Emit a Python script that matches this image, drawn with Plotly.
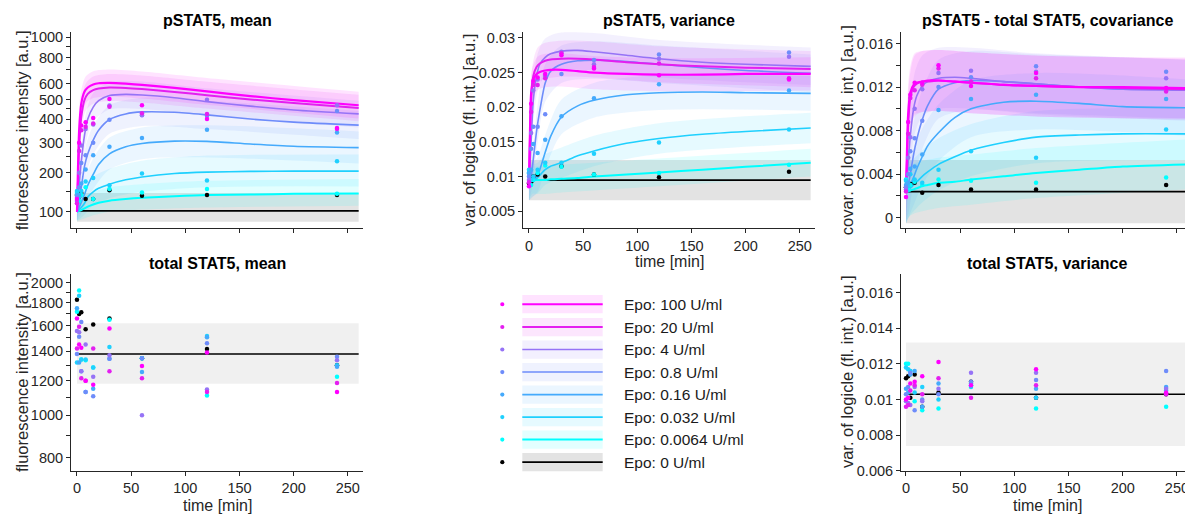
import numpy as np
import plotly.graph_objects as go

W, H = 1193, 523   # right-most panels run slightly past the 1185 px window, as in the reference
FONT = "Liberation Sans, Arial, sans-serif"

# ---------------- data ----------------
DOSES = ['100', '20', '4', '0.8', '0.16', '0.032', '0.0064', '0']
LEGEND_LABELS = ['Epo: %s U/ml' % d for d in DOSES]
COLORS = ['#ff00ff', '#e41ff0', '#9673f6', '#6e8cfa', '#45aafc', '#1fd0fe', '#00ffff', '#000000']
LINE_W = [2.2, 2.0, 1.6, 1.6, 1.6, 1.6, 2.0, 1.8]

# model fit time grid
T_FIT = [0, 1, 2, 4, 7, 10, 15, 20, 30, 45, 60, 90, 120, 160, 200, 260]
MEAN_FIT = [
    [100, 220, 350, 480, 550, 575, 595, 603, 605, 600, 592, 572, 550, 522, 498, 470],
    [100, 180, 280, 410, 500, 535, 558, 568, 575, 572, 565, 547, 527, 502, 482, 455],
    [100, 130, 165, 235, 330, 400, 460, 495, 525, 532, 528, 512, 490, 465, 445, 425],
    [100, 110, 125, 160, 220, 260, 310, 350, 398, 425, 435, 433, 420, 400, 386, 372],
    [100, 104, 110, 122, 142, 165, 195, 225, 260, 285, 297, 306, 305, 295, 287, 282],
    [100, 102, 105, 110, 120, 135, 148, 157, 168, 180, 188, 198, 202, 204, 205, 205],
    [100, 101, 102, 104, 108, 112, 117, 121, 126, 130, 133, 137, 140, 141, 143, 144],
]
VAR_FIT = [
    [0.0090, 0.0170, 0.0220, 0.0240, 0.0248, 0.0251, 0.0253, 0.0254, 0.0254, 0.0252, 0.0250, 0.0248, 0.0247, 0.0247, 0.0248, 0.0248],
    [0.0090, 0.0160, 0.0210, 0.0245, 0.0258, 0.0263, 0.0267, 0.0269, 0.0270, 0.0270, 0.0269, 0.0265, 0.0262, 0.0259, 0.0257, 0.0255],
    [0.0092, 0.0120, 0.0150, 0.0210, 0.0245, 0.0262, 0.0272, 0.0277, 0.0281, 0.0282, 0.0280, 0.0275, 0.0270, 0.0265, 0.0262, 0.0259],
    [0.0090, 0.0095, 0.0100, 0.0125, 0.0165, 0.0195, 0.0235, 0.0252, 0.0262, 0.0267, 0.0268, 0.0266, 0.0262, 0.0257, 0.0253, 0.0249],
    [0.0090, 0.0092, 0.0093, 0.0095, 0.0100, 0.0110, 0.0135, 0.0158, 0.0186, 0.0202, 0.0210, 0.0218, 0.0221, 0.0222, 0.0221, 0.0220],
    [0.0090, 0.0092, 0.0093, 0.0094, 0.0097, 0.0102, 0.0110, 0.0115, 0.0120, 0.0130, 0.0137, 0.0148, 0.0155, 0.0161, 0.0165, 0.0170],
    [0.0092, 0.0093, 0.0094, 0.0095, 0.0095, 0.0095, 0.0095, 0.0096, 0.0097, 0.0098, 0.0100, 0.0103, 0.0106, 0.0110, 0.0114, 0.0120],
]
COV_FIT = [
    [0.0024, 0.0065, 0.0095, 0.0115, 0.0122, 0.0124, 0.0125, 0.0126, 0.0126, 0.0125, 0.0124, 0.0122, 0.0121, 0.0120, 0.0120, 0.0119],
    [0.0024, 0.0055, 0.0085, 0.0110, 0.0120, 0.0123, 0.0125, 0.0125, 0.0126, 0.0125, 0.0124, 0.0122, 0.0121, 0.0120, 0.0119, 0.0118],
    [0.0024, 0.0035, 0.0050, 0.0075, 0.0100, 0.0112, 0.0121, 0.0125, 0.0128, 0.0129, 0.0128, 0.0125, 0.0123, 0.0120, 0.0118, 0.0117],
    [0.0024, 0.0026, 0.0030, 0.0040, 0.0058, 0.0072, 0.0090, 0.0103, 0.0118, 0.0124, 0.0126, 0.0125, 0.0123, 0.0120, 0.0118, 0.0118],
    [0.0024, 0.0025, 0.0026, 0.0030, 0.0037, 0.0045, 0.0056, 0.0066, 0.0078, 0.0092, 0.0100, 0.0106, 0.0107, 0.0105, 0.0102, 0.0101],
    [0.0024, 0.0024, 0.0025, 0.0027, 0.0030, 0.0033, 0.0038, 0.0042, 0.0049, 0.0056, 0.0062, 0.0069, 0.0074, 0.0076, 0.0077, 0.0077],
    [0.0024, 0.0024, 0.0024, 0.0025, 0.0026, 0.0027, 0.0029, 0.0030, 0.0032, 0.0033, 0.0035, 0.0038, 0.0041, 0.0044, 0.0047, 0.0049],
]

# uncertainty bands
T_BAND = [0, 3, 8, 15, 30, 60, 120, 260]
MEAN_LO = [
    [80, 330, 480, 510, 520, 508, 472, 403],
    [80, 280, 440, 478, 493, 485, 452, 390],
    [80, 160, 295, 390, 448, 450, 418, 362],
    [80, 112, 190, 258, 335, 368, 355, 314],
    [80, 92, 118, 155, 210, 242, 248, 228],
    [80, 85, 96, 115, 132, 148, 160, 162],
    [80, 82, 86, 92, 100, 105, 110, 114],
]
MEAN_HI = [
    [140, 520, 650, 690, 703, 688, 640, 548],
    [140, 445, 600, 650, 668, 657, 613, 530],
    [140, 250, 420, 540, 612, 615, 570, 495],
    [140, 175, 285, 370, 470, 512, 495, 440],
    [140, 145, 190, 245, 320, 362, 372, 345],
    [140, 135, 156, 188, 212, 237, 254, 258],
    [140, 130, 138, 148, 160, 168, 177, 182],
]
VAR_LO = [
    [0.0066, 0.0208, 0.0225, 0.0229, 0.0230, 0.0226, 0.0223, 0.0224],
    [0.0066, 0.0206, 0.0234, 0.0241, 0.0244, 0.0243, 0.0236, 0.0229],
    [0.0066, 0.0158, 0.0223, 0.0245, 0.0254, 0.0253, 0.0243, 0.0232],
    [0.0066, 0.0085, 0.0150, 0.0208, 0.0235, 0.0241, 0.0235, 0.0222],
    [0.0066, 0.0070, 0.0078, 0.0110, 0.0161, 0.0185, 0.0196, 0.0195],
    [0.0066, 0.0071, 0.0076, 0.0088, 0.0098, 0.0115, 0.0133, 0.0148],
    [0.0066, 0.0075, 0.0075, 0.0075, 0.0077, 0.0080, 0.0086, 0.0100],
]
VAR_HI = [
    [0.0124, 0.0256, 0.0273, 0.0277, 0.0278, 0.0274, 0.0271, 0.0272],
    [0.0124, 0.0258, 0.0286, 0.0293, 0.0296, 0.0295, 0.0288, 0.0281],
    [0.0124, 0.0212, 0.0277, 0.0299, 0.0308, 0.0307, 0.0297, 0.0286],
    [0.0124, 0.0137, 0.0204, 0.0262, 0.0289, 0.0295, 0.0289, 0.0276],
    [0.0124, 0.0120, 0.0128, 0.0160, 0.0211, 0.0235, 0.0246, 0.0245],
    [0.0124, 0.0118, 0.0120, 0.0132, 0.0142, 0.0159, 0.0177, 0.0192],
    [0.0124, 0.0115, 0.0115, 0.0115, 0.0117, 0.0120, 0.0126, 0.0140],
]
COV_LO = [
    [-0.0005, 0.0077, 0.0095, 0.0097, 0.0098, 0.0096, 0.0093, 0.0091],
    [-0.0005, 0.0070, 0.0093, 0.0097, 0.0098, 0.0096, 0.0093, 0.0090],
    [-0.0005, 0.0034, 0.0077, 0.0093, 0.0100, 0.0100, 0.0095, 0.0089],
    [-0.0005, 0.0008, 0.0038, 0.0063, 0.0091, 0.0099, 0.0096, 0.0091],
    [-0.0005, 0.0002, 0.0014, 0.0030, 0.0052, 0.0074, 0.0081, 0.0075],
    [-0.0005, 0.0001, 0.0007, 0.0014, 0.0025, 0.0038, 0.0050, 0.0053],
    [-0.0005, 0.0001, 0.0004, 0.0006, 0.0009, 0.0012, 0.0018, 0.0026],
]
COV_HI = [
    [0.0053, 0.0133, 0.0151, 0.0153, 0.0154, 0.0152, 0.0149, 0.0147],
    [0.0053, 0.0126, 0.0149, 0.0153, 0.0154, 0.0152, 0.0149, 0.0146],
    [0.0053, 0.0090, 0.0133, 0.0149, 0.0156, 0.0156, 0.0151, 0.0145],
    [0.0053, 0.0062, 0.0092, 0.0117, 0.0145, 0.0153, 0.0150, 0.0145],
    [0.0053, 0.0054, 0.0066, 0.0082, 0.0104, 0.0126, 0.0133, 0.0127],
    [0.0053, 0.0051, 0.0055, 0.0062, 0.0073, 0.0086, 0.0098, 0.0101],
    [0.0053, 0.0049, 0.0050, 0.0052, 0.0055, 0.0058, 0.0064, 0.0072],
]

# Epo 0 U/ml (and total STAT5) constant model
CTRL_T = [0, 260]
MEAN_CTRL, MEAN_CTRL_LO, MEAN_CTRL_HI = [102, 102], [78, 78], [145, 145]
VAR_CTRL, VAR_CTRL_LO, VAR_CTRL_HI = [0.0095, 0.0095], [0.0066, 0.0066], [0.0124, 0.0124]
COV_CTRL, COV_CTRL_LO, COV_CTRL_HI = [0.0024, 0.0024], [-0.0005, -0.0005], [0.0053, 0.0053]
TOT_MEAN_FIT, TOT_MEAN_LO, TOT_MEAN_HI = [1380, 1380], [1180, 1180], [1620, 1620]
TOT_VAR_FIT, TOT_VAR_LO, TOT_VAR_HI = [0.0103, 0.0103], [0.0074, 0.0074], [0.0132, 0.0132]

# measured data
DATA_T = [0, 2, 4, 8, 15, 30, 60, 120, 240]
MEAN_DATA = [
    [130, 300, 370, 385, 405, 505, 470, 400, 360],
    [120, 270, 350, 365, 380, 462, 428, 425, 355],
    [125, 200, 290, 355, 375, 468, 418, 500, 470],
    [135, 160, 230, 255, 300, 397, 420, 415, 440],
    [140, 140, 170, 210, 255, 285, 318, 352, 340],
    [150, 135, 150, 175, 185, 165, 198, 178, 235],
    [145, 125, 140, 160, 130, 155, 146, 155, 143],
    [140, 135, 145, 130, 130, 152, 138, 140, 140],
]
VAR_DATA = [
    [0.0086, 0.0205, 0.0238, 0.0243, 0.0248, 0.0275, 0.0256, 0.0246, 0.0240],
    [0.0092, 0.0193, 0.0232, 0.0232, 0.0242, 0.0278, 0.0258, 0.0263, 0.0242],
    [0.0095, 0.0163, 0.0224, 0.0240, 0.0245, 0.0280, 0.0262, 0.0270, 0.0273],
    [0.0100, 0.0140, 0.0172, 0.0172, 0.0190, 0.0248, 0.0268, 0.0276, 0.0279],
    [0.0105, 0.0110, 0.0147, 0.0134, 0.0153, 0.0187, 0.0213, 0.0233, 0.0224],
    [0.0110, 0.0095, 0.0100, 0.0110, 0.0120, 0.0120, 0.0133, 0.0149, 0.0168],
    [0.0105, 0.0088, 0.0095, 0.0105, 0.0116, 0.0114, 0.0103, 0.0105, 0.0117],
    [0.0090, 0.0092, 0.0100, 0.0103, 0.0100, 0.0115, 0.0103, 0.0099, 0.0107],
]
COV_DATA = [
    [0.0019, 0.0088, 0.0113, 0.0124, 0.0124, 0.0140, 0.0121, 0.0133, 0.0119],
    [0.0024, 0.0077, 0.0110, 0.0117, 0.0122, 0.0137, 0.0125, 0.0128, 0.0116],
    [0.0026, 0.0055, 0.0074, 0.0100, 0.0118, 0.0133, 0.0135, 0.0134, 0.0128],
    [0.0028, 0.0040, 0.0061, 0.0073, 0.0089, 0.0120, 0.0129, 0.0139, 0.0134],
    [0.0030, 0.0032, 0.0045, 0.0047, 0.0058, 0.0099, 0.0109, 0.0113, 0.0109],
    [0.0034, 0.0029, 0.0040, 0.0035, 0.0032, 0.0044, 0.0061, 0.0055, 0.0081],
    [0.0035, 0.0027, 0.0030, 0.0033, 0.0030, 0.0035, 0.0034, 0.0032, 0.0037],
    [0.0028, 0.0029, 0.0031, 0.0032, 0.0023, 0.0030, 0.0026, 0.0026, 0.0030],
]
TOT_MEAN_DATA = [
    [1660, 1450, 1425, 1200, 1175, 1575, 1295, 1390, 1130],
    [1420, 1590, 1215, 1200, 1420, 1260, 1215, 1130, 1185],
    [1555, 1545, 1260, 1450, 1225, 1370, 1000, 1145, 1335],
    [1380, 1510, 1630, 1130, 1105, 1345, 1350, 1460, 1360],
    [1750, 1320, 1260, 1130, 1150, 1345, 1255, 1505, 1290],
    [1320, 1870, 1340, 1340, 1285, 1430, 1350, 1515, 1300],
    [1720, 1920, 1340, 1335, 1285, 1650, 1350, 1110, 1225],
    [1830, 1700, 1715, 1570, 1610, 1660, 1350, 1415, 1300],
]
TOT_VAR_DATA = [
    [0.0100, 0.0101, 0.0109, 0.0110, 0.0113, 0.0121, 0.0108, 0.0117, 0.0104],
    [0.0096, 0.0097, 0.0105, 0.0108, 0.0103, 0.0112, 0.0101, 0.0108, 0.0103],
    [0.0099, 0.0098, 0.0097, 0.0107, 0.0099, 0.0106, 0.0115, 0.0115, 0.0106],
    [0.0103, 0.0107, 0.0115, 0.0094, 0.0100, 0.0103, 0.0110, 0.0111, 0.0116],
    [0.0106, 0.0104, 0.0114, 0.0116, 0.0096, 0.0109, 0.0109, 0.0106, 0.0107],
    [0.0118, 0.0117, 0.0116, 0.0104, 0.0107, 0.0100, 0.0107, 0.0101, 0.0105],
    [0.0120, 0.0120, 0.0116, 0.0099, 0.0094, 0.0095, 0.0108, 0.0095, 0.0096],
    [0.0112, 0.0113, 0.0101, 0.0114, 0.0096, 0.0104, 0.0110, 0.0101, 0.0103],
]

# axis ticks
X_TICKS = [0, 50, 100, 150, 200, 250]
MEAN_TICKS = [100, 150, 200, 250, 300, 350, 400, 450, 500, 600, 700, 800, 900, 1000]
MEAN_TICKTEXT = ['100', '', '200', '', '300', '', '400', '', '500', '600', '', '800', '', '1000']
VAR_TICKS = [0.005, 0.01, 0.015, 0.02, 0.025, 0.03]
VAR_TICKTEXT = ['0.005', '0.01', '0.015', '0.02', '0.025', '0.03']
COV_TICKS = [0, 0.002, 0.004, 0.006, 0.008, 0.010, 0.012, 0.014, 0.016]
COV_TICKTEXT = ['0', '', '0.004', '', '0.008', '', '0.012', '', '0.016']
TOT_TICKS = [800, 900, 1000, 1100, 1200, 1300, 1400, 1500, 1600, 1700, 1800, 1900, 2000]
TOT_TICKTEXT = ['800', '', '1000', '', '1200', '', '1400', '', '1600', '', '1800', '', '2000']
TVAR_TICKS = [0.006, 0.008, 0.010, 0.012, 0.014, 0.016]
TVAR_TICKTEXT = ['0.006', '0.008', '0.01', '0.012', '0.014', '0.016']

# ---------------- helpers ----------------
LOGICLE_W = 187.0


def logicle(v):
    return np.arcsinh(np.asarray(v, dtype=float) / LOGICLE_W)


def ident(v):
    return list(v)


def rgba(hexc, a):
    h = hexc.lstrip('#')
    return 'rgba(%d,%d,%d,%.3f)' % (int(h[0:2], 16), int(h[2:4], 16), int(h[4:6], 16), a)


def px(x):
    return x / W


def py(y):
    return 1 - y / H


fig = go.Figure()
BAND_ALPHA = 0.11


def add_band(ax, t, lo, hi, color, tf, alpha=BAND_ALPHA, shape='spline'):
    xa, ya = ax
    fig.add_trace(go.Scatter(x=t, y=tf(lo), mode='lines', xaxis=xa, yaxis=ya,
                             line=dict(width=0, shape=shape, smoothing=0.8),
                             hoverinfo='skip', showlegend=False))
    fig.add_trace(go.Scatter(x=t, y=tf(hi), mode='lines', xaxis=xa, yaxis=ya,
                             line=dict(width=0, shape=shape, smoothing=0.8),
                             fill='tonexty', fillcolor=rgba(color, alpha),
                             hoverinfo='skip', showlegend=False))


def add_line(ax, t, v, color, w, tf):
    xa, ya = ax
    fig.add_trace(go.Scatter(x=t, y=tf(v), mode='lines', xaxis=xa, yaxis=ya,
                             line=dict(color=color, width=w, shape='spline', smoothing=0.7),
                             hoverinfo='skip', showlegend=False))


def add_dots(ax, t, v, color, tf):
    xa, ya = ax
    fig.add_trace(go.Scatter(x=t, y=tf(v), mode='markers', xaxis=xa, yaxis=ya,
                             marker=dict(color=color, size=4.5, line=dict(width=0)),
                             hoverinfo='skip', showlegend=False))


def dose_panel(ax, fit, lo, hi, ctrl, ctrl_lo, ctrl_hi, data, tf):
    add_band(ax, CTRL_T, ctrl_lo, ctrl_hi, '#000000', tf, shape='linear')
    for i in range(6, -1, -1):
        add_band(ax, T_BAND, lo[i], hi[i], COLORS[i], tf)
    add_line(ax, CTRL_T, ctrl, COLORS[7], LINE_W[7], tf)
    for i in range(6, -1, -1):
        add_line(ax, T_FIT, fit[i], COLORS[i], LINE_W[i], tf)
    for i in range(7, -1, -1):
        add_dots(ax, DATA_T, data[i], COLORS[i], tf)


def total_panel(ax, fit, lo, hi, data, tf):
    add_band(ax, CTRL_T, lo, hi, '#000000', tf, alpha=0.06, shape='linear')
    add_line(ax, CTRL_T, fit, '#000000', 1.5, tf)
    for i in range(7, -1, -1):
        add_dots(ax, DATA_T, data[i], COLORS[i], tf)


dose_panel(('x', 'y'), MEAN_FIT, MEAN_LO, MEAN_HI, MEAN_CTRL, MEAN_CTRL_LO, MEAN_CTRL_HI, MEAN_DATA, logicle)
dose_panel(('x2', 'y2'), VAR_FIT, VAR_LO, VAR_HI, VAR_CTRL, VAR_CTRL_LO, VAR_CTRL_HI, VAR_DATA, ident)
dose_panel(('x3', 'y3'), COV_FIT, COV_LO, COV_HI, COV_CTRL, COV_CTRL_LO, COV_CTRL_HI, COV_DATA, ident)
total_panel(('x4', 'y4'), TOT_MEAN_FIT, TOT_MEAN_LO, TOT_MEAN_HI, TOT_MEAN_DATA, logicle)
total_panel(('x5', 'y5'), TOT_VAR_FIT, TOT_VAR_LO, TOT_VAR_HI, TOT_VAR_DATA, ident)

# ---------------- axes ----------------
AXC = '#262626'
base = dict(showline=True, linecolor=AXC, linewidth=1, ticks='outside', ticklen=4,
            tickcolor=AXC, tickwidth=1, showgrid=False, zeroline=False,
            tickfont=dict(family=FONT, size=14.5, color=AXC), fixedrange=True)

XL = [px(71), px(363)]
XM = [px(523), px(815)]
XR = [px(901), px(1193)]
YT = [py(230), py(30)]
YB = [py(478), py(276.7)]
XRANGE = [-5.5, 264]
XRANGE_R = [-4.6, 264.8]

layout = dict(
    width=W, height=H, margin=dict(l=0, r=0, t=0, b=0),
    paper_bgcolor='white', plot_bgcolor='white', showlegend=False,
    font=dict(family=FONT, color=AXC),
)


def xax(domain, anchor, rng, labels):
    d = dict(base)
    d.update(domain=domain, anchor=anchor, range=rng, tickvals=X_TICKS, showticklabels=labels,
             ticklabeloverflow='allow')
    return d


def yax(domain, anchor, rng, tv, tt):
    d = dict(base)
    d.update(domain=domain, anchor=anchor, range=rng, tickvals=tv, ticktext=tt)
    return d


layout['xaxis'] = xax(XL, 'y', XRANGE, False)
layout['yaxis'] = yax(YT, 'x', [0.3372, 2.4315], list(logicle(MEAN_TICKS)), MEAN_TICKTEXT)
layout['xaxis2'] = xax(XM, 'y2', XRANGE, True)
layout['yaxis2'] = yax(YT, 'x2', [0.00256, 0.0308], VAR_TICKS, VAR_TICKTEXT)
layout['xaxis3'] = xax(XR, 'y3', XRANGE_R, False)
layout['yaxis3'] = yax(YT, 'x3', [-0.00096, 0.01702], COV_TICKS, COV_TICKTEXT)
layout['xaxis4'] = xax(XL, 'y4', XRANGE, True)
layout['yaxis4'] = yax(YB, 'x4', [2.0906, 3.1108], list(logicle(TOT_TICKS)), TOT_TICKTEXT)
layout['xaxis5'] = xax(XR, 'y5', XRANGE_R, True)
layout['yaxis5'] = yax(YB, 'x5', [0.006, 0.01704], TVAR_TICKS, TVAR_TICKTEXT)

fig.update_layout(**layout)

# ---------------- titles / labels ----------------
ann = []


def text(x, y, s, size=16, bold=False, angle=0, xanchor='center', color=AXC):
    ann.append(dict(x=px(x), y=py(y), xref='paper', yref='paper', text=('<b>%s</b>' % s) if bold else s,
                    showarrow=False, xanchor=xanchor, yanchor='middle', textangle=angle,
                    borderpad=0, font=dict(family=FONT, size=size, color=color)))


text(217, 18, 'pSTAT5, mean', bold=True, color='#000000')
text(669, 18, 'pSTAT5, variance', bold=True, color='#000000')
text(1047, 18, 'pSTAT5 - total STAT5, covariance', bold=True, color='#000000')
text(217, 266, 'total STAT5, mean', bold=True, color='#000000')
text(1047, 266, 'total STAT5, variance', bold=True, color='#000000')

text(22, 130, 'fluorescence intensity [a.u.]', size=16.5, angle=-90)
text(469, 130, 'var. of logicle (fl. int.) [a.u.]', size=16.5, angle=-90)
text(847, 130, 'covar. of logicle (fl. int.) [a.u.]', size=16.5, angle=-90)
text(22, 377, 'fluorescence intensity [a.u.]', size=16.5, angle=-90)
text(847, 377, 'var. of logicle (fl. int.) [a.u.]', size=16.5, angle=-90)

text(669, 264.5, 'time [min]', size=16)
text(217, 513, 'time [min]', size=16)
text(1047, 513, 'time [min]', size=16)

# ---------------- legend ----------------
LEG_ROWS = [307.7, 331, 354, 377, 400, 423, 446, 469]
shapes = []
for i, yrow in enumerate(LEG_ROWS):
    band_col = rgba(COLORS[i], BAND_ALPHA)
    shapes.append(dict(type='rect', xref='paper', yref='paper', x0=px(522.3), x1=px(602.7),
                       y0=py(yrow + 9.3), y1=py(yrow - 9.3), fillcolor=band_col, line=dict(width=0),
                       layer='below'))
    shapes.append(dict(type='line', xref='paper', yref='paper', x0=px(522.3), x1=px(602.7),
                       y0=py(yrow), y1=py(yrow), line=dict(color=COLORS[i], width=LINE_W[i])))
    shapes.append(dict(type='circle', xref='paper', yref='paper', x0=px(500.2), x1=px(504.4),
                       y0=py(yrow + 2.1), y1=py(yrow - 2.1), fillcolor=COLORS[i], line=dict(width=0)))
    text(623, yrow, LEGEND_LABELS[i], size=15.5, xanchor='left', color='#1a1a1a')

fig.update_layout(annotations=ann, shapes=shapes)
fig.write_html('out.html', config={'displayModeBar': False, 'staticPlot': True},
               post_script="document.body.style.margin='0';document.body.style.overflow='hidden';")
